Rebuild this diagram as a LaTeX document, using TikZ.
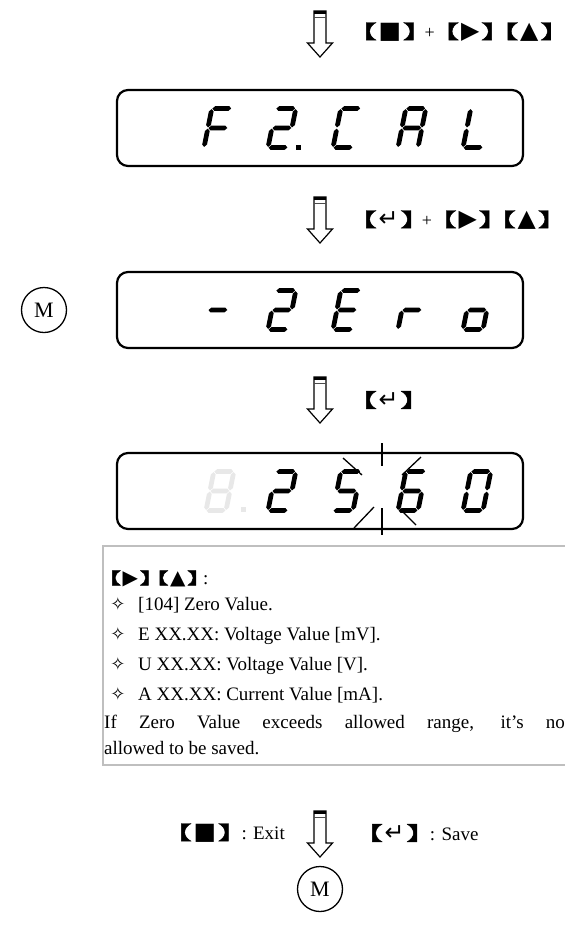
\documentclass[tikz,border=0pt]{standalone}
\usepackage{fontspec}
\setmainfont{Liberation Serif}
\newfontfamily\cjkf[AutoFakeBold=2.5,FakeStretch=1.7,RawFeature=+palt]{Noto Sans CJK SC}
\newfontfamily\dvf{DejaVu Sans}
\newfontfamily\dvsym[Scale=1.25]{DejaVu Sans}
\definecolor{lcdgray}{gray}{0.91}
\definecolor{boxgray}{gray}{0.75}
% keys
\newcommand\KL{{\cjkf\bfseries 【}}
\newcommand\KR{{\cjkf\bfseries 】}}
\newcommand\Kstop{{\dvsym ■}}
\newcommand\Kright{{\dvsym ▶}}
\newcommand\Kup{{\dvsym ▲}}
\newcommand\Kent{{\dvsym ↵}}
\newcommand\key[1]{\KL\hspace{0.12em}#1\hspace{0.12em}\KR}
% seven segment
\def\SW{20}\def\SH{39}\def\SM{19.5}\def\ST{2.4}\def\SG{0.6}
\newcommand\sgH[3]{\fill (#1+\SG,#3) -- (#1+\SG+\ST,#3+\ST) -- (#2-\SG-\ST,#3+\ST) -- (#2-\SG,#3) -- (#2-\SG-\ST,#3-\ST) -- (#1+\SG+\ST,#3-\ST) -- cycle;}
\newcommand\sgV[3]{\fill (#1,#2+\SG) -- (#1+\ST,#2+\SG+\ST) -- (#1+\ST,#3-\SG-\ST) -- (#1,#3-\SG) -- (#1-\ST,#3-\SG-\ST) -- (#1-\ST,#2+\SG+\ST) -- cycle;}
\newcommand\segA{\sgH{0}{\SW}{\SH}}
\newcommand\segB{\sgV{\SW}{\SM}{\SH}}
\newcommand\segC{\sgV{\SW}{0}{\SM}}
\newcommand\segD{\sgH{0}{\SW}{0}}
\newcommand\segE{\sgV{0}{0}{\SM}}
\newcommand\segF{\sgV{0}{\SM}{\SH}}
\newcommand\segG{\sgH{0}{\SW}{\SM}}
\newcommand\lcddig[3][black]{\begin{scope}[shift={#2},yscale=-1,xslant=-0.2,fill=#1]\foreach \s in {#3}{\csname seg\s\endcsname}\end{scope}}
% hollow arrow: x center, top y
\newcommand\harrow[2]{%
  \draw[arr] (#1-6,#2+32) -- (#1-6,#2) -- (#1+6,#2) -- (#1+6,#2+32) -- (#1+12.5,#2+32) -- (#1,#2+46) -- (#1-12.5,#2+32) -- cycle;
  \fill (#1-6,#2) rectangle (#1+6,#2+3);
  \draw[line width=0.8pt,black!70] (#1-6,#2+6) -- (#1+6,#2+6);}
\begin{document}
\begin{tikzpicture}[x=1pt,y=-1pt,
  lcd/.style={draw,line width=2.2pt,rounded corners=11pt,minimum width=406pt,minimum height=76pt,inner sep=0pt},
  mcirc/.style={draw,circle,line width=1.3pt,minimum size=45pt,inner sep=0pt,font=\fontsize{22}{22}\selectfont},
  arr/.style={draw,line width=1.2pt,line join=miter},
  keylbl/.style={anchor=west,inner sep=0pt,font=\fontsize{19}{19}\selectfont},
  txt/.style={anchor=base west,inner sep=0pt,font=\fontsize{19}{19}\selectfont},
  star/.style={inner sep=0pt,font=\dvf\fontsize{18}{18}\selectfont},
  flash/.style={line width=1.3pt},
  tbox/.style={draw=boxgray,line width=2pt},
]
\fill[white] (0,0) rectangle (565,938);
\useasboundingbox (0,0) rectangle (565,938);
\clip (0,0) rectangle (565,938);

% step 1
\harrow{320}{11}
\node[keylbl] (k1) at (360,32) {\key{\Kstop}\hspace{5pt}{\fontsize{18}{18}\selectfont +}\hspace{8pt}\key{\Kright}\hspace{4pt}\key{\Kup}};
\node[lcd] (d1) at (320,128) {};
\lcddig{(204,147.5)}{A,E,F,G}
\lcddig{(268,147.5)}{A,B,G,E,D}
\fill (296,145) rectangle (301,150);
\lcddig{(333,147.5)}{A,F,E,D}
\lcddig{(398,147.5)}{A,B,C,E,F,G}
\lcddig{(463,147.5)}{F,E,D}

% step 2
\harrow{320}{197}
\node[keylbl] (k2) at (360,220) {\key{\Kent}\hspace{5pt}{\fontsize{18}{18}\selectfont +}\hspace{8pt}\key{\Kright}\hspace{4pt}\key{\Kup}};
\node[mcirc] (m1) at (44,310) {M};
\node[lcd] (d2) at (320,310) {};
\lcddig{(204,329.5)}{G}
\lcddig{(268,329.5)}{A,B,G,E,D}
\lcddig{(333,329.5)}{A,F,G,E,D}
\lcddig{(398,329.5)}{E,G}
\lcddig{(463,329.5)}{C,D,E,G}

% step 3
\harrow{320}{377}
\node[keylbl] (k3) at (360,400) {\key{\Kent}};
\node[lcd] (d3) at (320,491) {};
\lcddig[lcdgray]{(206,510.5)}{A,B,C,D,E,F,G}
\fill[lcdgray] (241,507) rectangle (246,512);
\lcddig{(268,510.5)}{A,B,G,E,D}
\lcddig{(333,510.5)}{A,F,G,C,D}
\lcddig{(398,510.5)}{A,F,G,E,C,D}
\lcddig{(463,510.5)}{A,B,C,D,E,F}
\draw[flash] (382,443) -- (382,466);
\draw[flash] (382,508) -- (382,535);
\draw[flash] (343,458) -- (362,475);
\draw[flash] (421,457) -- (402,475);
\draw[flash] (354,528) -- (374,507);
\draw[flash] (397,506) -- (416,525);

% text box
\draw[tbox] (570,546) -- (103,546) -- (103,765) -- (570,765);
\node[txt] (t0) at (107,584) {{\fontsize{16}{16}\selectfont\key{\Kright}\hspace{1pt}\key{\Kup}}\hspace{2pt}:};
\node[star] (s1) at (118,604) {✧};
\node[txt] (t1) at (138,610) {[104] Zero Value.};
\node[star] (s2) at (118,634) {✧};
\node[txt] (t2) at (138,640) {E XX.XX: Voltage Value [mV].};
\node[star] (s3) at (118,664) {✧};
\node[txt] (t3) at (138,670) {U XX.XX: Voltage Value [V].};
\node[star] (s4) at (118,694) {✧};
\node[txt] (t4) at (138,700) {A XX.XX: Current Value [mA].};
\node[txt] (t5) at (104,728) {\makebox[466pt][s]{If Zero Value exceeds allowed range, it’s not}};
\node[txt] (t6) at (104,754) {allowed to be saved.};

% final
\harrow{320}{811}
\node[keylbl] (k4) at (175,833) {\key{\Kstop}\hspace{7pt}{\fontsize{19}{19}\selectfont : Exit}};
\node[keylbl] (k5) at (366,833) {\key{\Kent}\hspace{7pt}{\fontsize{19}{19}\selectfont : Save}};
\node[mcirc] (m2) at (320,889) {M};
\end{tikzpicture}
\end{document}
